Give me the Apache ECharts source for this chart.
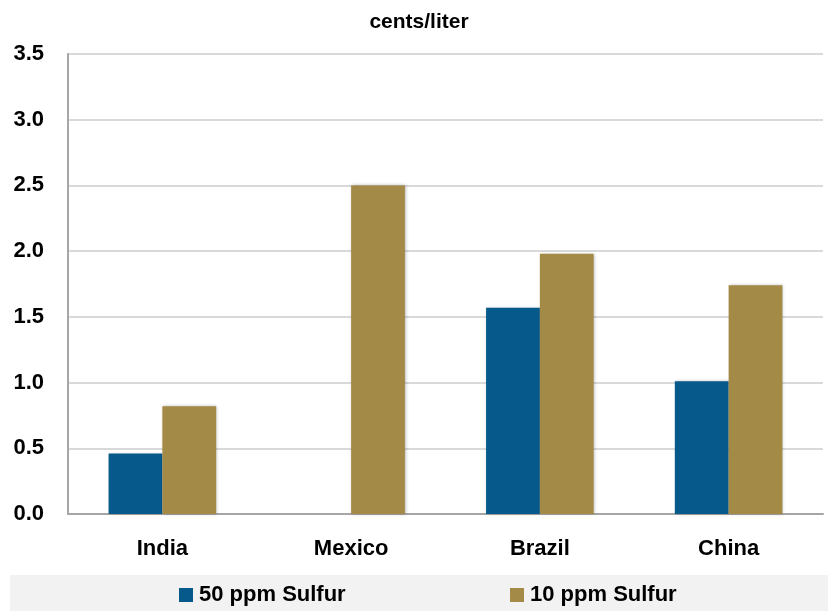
<!DOCTYPE html>
<html>
<head>
<meta charset="utf-8">
<script src="https://cdn.jsdelivr.net/npm/echarts@6/dist/echarts.min.js"></script>
<style>
  html, body { margin: 0; padding: 0; background: #fff; }
  #chart { width: 828px; height: 611px; }
</style>
</head>
<body>
<div id="chart"></div>
<script>
// Fuel cost increase per liter by sulfur standard
const categories = ['India', 'Mexico', 'Brazil', 'China'];
const sulfur50 = [0.46, 0, 1.57, 1.01];
const sulfur10 = [0.82, 2.50, 1.98, 1.74];
const seriesNames = ['50 ppm Sulfur', '10 ppm Sulfur'];
const yTicks = [0, 0.5, 1.0, 1.5, 2.0, 2.5, 3.0, 3.5];

const FONT = '"Liberation Sans", Arial, sans-serif';
const BLUE = '#05598b';
const GOLD = '#a38a47';

const chart = echarts.init(document.getElementById('chart'));

const barShadow = {
  shadowBlur: 3,
  shadowColor: 'rgba(0,0,0,0.25)',
  shadowOffsetX: 1,
  shadowOffsetY: 0
};

const legendText = { fontFamily: FONT, fontWeight: 'bold', fontSize: 22, color: '#000', padding: [0, 0, 0, 1] };

chart.setOption({
  animation: false,
  backgroundColor: '#ffffff',
  title: {
    text: 'cents/liter',
    left: 419,
    top: 12,
    padding: 0,
    textAlign: 'center',
    textStyle: { fontFamily: FONT, fontWeight: 'bold', fontSize: 21, color: '#000' }
  },
  graphic: [{
    type: 'rect',
    left: 10,
    top: 575,
    shape: { width: 818, height: 36 },
    style: { fill: '#f2f2f2' },
    z: -1
  }],
  legend: [
    {
      data: [seriesNames[0]],
      left: 179, top: 584, padding: 0,
      itemWidth: 14, itemHeight: 14, itemGap: 0,
      icon: 'rect',
      textStyle: legendText
    },
    {
      data: [seriesNames[1]],
      left: 510, top: 584, padding: 0,
      itemWidth: 14, itemHeight: 14, itemGap: 0,
      icon: 'rect',
      textStyle: legendText
    }
  ],
  grid: { left: 68, right: 5, top: 54, bottom: 97, containLabel: false },
  xAxis: {
    type: 'category',
    data: categories,
    axisLine: { lineStyle: { color: '#a6a6a6', width: 2 } },
    axisTick: { show: false },
    axisLabel: { fontFamily: FONT, fontWeight: 'bold', fontSize: 22, color: '#000', margin: 24 }
  },
  yAxis: {
    type: 'value',
    min: yTicks[0],
    max: yTicks[yTicks.length - 1],
    interval: 0.5,
    axisLine: { show: true, lineStyle: { color: '#a6a6a6', width: 2 } },
    axisTick: { show: false },
    splitLine: { lineStyle: { color: '#d9d9d9', width: 2 } },
    axisLabel: {
      fontFamily: FONT, fontWeight: 'bold', fontSize: 22, color: '#000', margin: 24,
      padding: [5, 0, 0, 0],
      formatter: v => v.toFixed(1)
    }
  },
  series: [
    {
      name: seriesNames[0],
      type: 'bar',
      data: sulfur50,
      barGap: '0%',
      barCategoryGap: '43%',
      itemStyle: Object.assign({ color: BLUE }, barShadow)
    },
    {
      name: seriesNames[1],
      type: 'bar',
      data: sulfur10,
      itemStyle: Object.assign({ color: GOLD }, barShadow)
    }
  ]
});
</script>
</body>
</html>
